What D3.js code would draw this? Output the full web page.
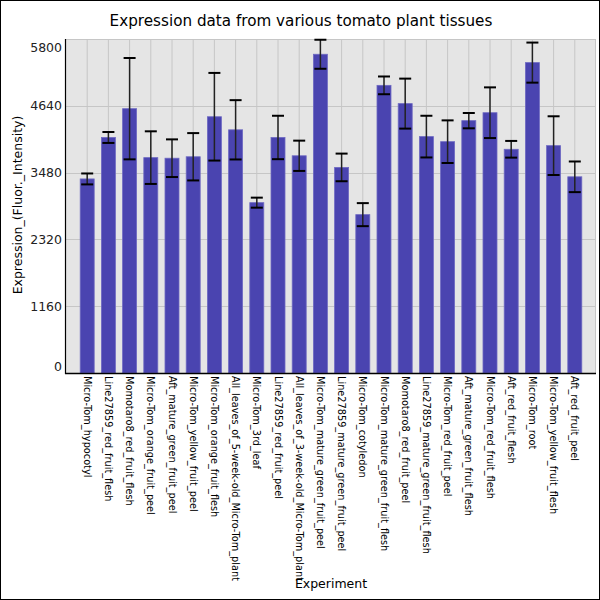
<!DOCTYPE html>
<html><head><meta charset="utf-8">
<script src="https://cdn.jsdelivr.net/npm/d3@7"></script>
<style>body{margin:0;background:#fff}svg{display:block;font-family:"DejaVu Sans",sans-serif}</style>
</head><body><svg id="c" width="600" height="600"></svg>
<script>
const categories = ["Micro-Tom_hypocotyl","Line27859_red_fruit_flesh","Momotaro8_red_fruit_flesh","Micro-Tom_orange_fruit_peel","Aft_mature_green_fruit_peel","Micro-Tom_yellow_fruit_peel","Micro-Tom_orange_fruit_flesh","All_leaves_of_5-week-old_Micro-Tom_plant","Micro-Tom_3rd_leaf","Line27859_red_fruit_peel","All_leaves_of_3-week-old_Micro-Tom_plant","Micro-Tom_mature_green_fruit_peel","Line27859_mature_green_fruit_peel","Micro-Tom_cotyledon","Micro-Tom_mature_green_fruit_flesh","Momotaro8_red_fruit_peel","Line27859_mature_green_fruit_flesh","Micro-Tom_red_fruit_peel","Aft_mature_green_fruit_flesh","Micro-Tom_red_fruit_flesh","Aft_red_fruit_flesh","Micro-Tom_root","Micro-Tom_yellow_fruit_flesh","Aft_red_fruit_peel"];
const values = [3370,4090,4590,3740,3730,3755,4450,4223,2958,4090,3772,5535,3570,2750,4995,4678,4105,4017,4382,4520,3885,5390,3948,3407];
const errors = [95,95,880,457,327,411,761,515,87,377,263,252,240,200,154,434,362,370,133,440,145,348,510,266];
const yTicks = [0,1160,2320,3480,4640,5800];
const title = "Expression data from various tomato plant tissues";
const xTitle = "Experiment";
const yTitle = "Expression_(Fluor._Intensity)";

const svg = d3.select("#c");
const L = 66, R = 596, T = 39, B = 373;
const x = d3.scaleLinear().domain([0, categories.length + 1]).range([L, R]);
const y = d3.scaleLinear().domain([0, 5800]).range([B, T]);
const bw = 14, cap = 12;

svg.append("rect").attr("x", L).attr("y", T).attr("width", R - L).attr("height", B - T).attr("fill", "#e5e5e5");

// grid
svg.append("g").selectAll("line").data(yTicks).join("line")
  .attr("x1", L).attr("x2", R).attr("y1", d => Math.round(y(d)) + 0.5).attr("y2", d => Math.round(y(d)) + 0.5)
  .attr("stroke", "#c6c6c6").attr("stroke-width", 1);
svg.append("g").selectAll("line").data(categories).join("line")
  .attr("x1", (d, i) => x(i + 1)).attr("x2", (d, i) => x(i + 1)).attr("y1", T).attr("y2", B)
  .attr("stroke", "#c6c6c6").attr("stroke-width", 1);
svg.append("line").attr("x1", R - 0.5).attr("x2", R - 0.5).attr("y1", T).attr("y2", B).attr("stroke", "#c6c6c6");

// bars
svg.append("g").selectAll("rect").data(values).join("rect")
  .attr("x", (d, i) => x(i + 1) - bw / 2).attr("width", bw)
  .attr("y", d => y(d)).attr("height", d => B - y(d))
  .attr("fill", "#4a44b0").attr("stroke", "#6e69c2").attr("stroke-width", 0.8);

// error bars
const eb = svg.append("g");
values.forEach((v, i) => {
  const cx = x(i + 1), e = errors[i];
  eb.append("line").attr("x1", cx).attr("x2", cx).attr("y1", y(v + e)).attr("y2", y(v - e))
    .attr("stroke", "#222").attr("stroke-width", 1.5);
  [v + e, v - e].forEach(t => {
    eb.append("line").attr("x1", cx - cap / 2).attr("x2", cx + cap / 2).attr("y1", y(t)).attr("y2", y(t))
      .attr("stroke", "#000").attr("stroke-width", 2);
  });
});

// axes
svg.append("line").attr("x1", L - 0.5).attr("x2", L - 0.5).attr("y1", T).attr("y2", B + 1).attr("stroke", "#000").attr("stroke-width", 1.2);
svg.append("line").attr("x1", L - 1).attr("x2", R).attr("y1", B + 0.5).attr("y2", B + 0.5).attr("stroke", "#000").attr("stroke-width", 1.5);

// y tick labels
svg.append("g").selectAll("text").data(yTicks).join("text")
  .attr("x", L - 4)
  .attr("y", d => d === 5800 ? 52 : (d === 0 ? 371 : y(d) + 4.5))
  .attr("text-anchor", "end").attr("font-size", 12.5).attr("fill", "#222")
  .text(d => d);

// x labels
svg.append("g").selectAll("text").data(categories).join("text")
  .attr("transform", (d, i) => `translate(${x(i + 1)},${B + 3}) rotate(90)`)
  .attr("dominant-baseline", "central")
  .attr("font-size", 9.75).attr("fill", "#000")
  .text(d => d);

// titles
svg.append("text").attr("x", 301).attr("y", 26).attr("text-anchor", "middle").attr("font-size", 15.2).attr("fill", "#000").text(title);
svg.append("text").attr("x", 331).attr("y", 588).attr("text-anchor", "middle").attr("font-size", 12.5).attr("fill", "#000").text(xTitle);
svg.append("text").attr("transform", "translate(22,205) rotate(-90)").attr("text-anchor", "middle").attr("font-size", 12.5).attr("fill", "#000").text(yTitle);

// border
svg.append("rect").attr("x", 0.5).attr("y", 0.5).attr("width", 599).attr("height", 599).attr("fill", "none").attr("stroke", "#000");
</script></body></html>
